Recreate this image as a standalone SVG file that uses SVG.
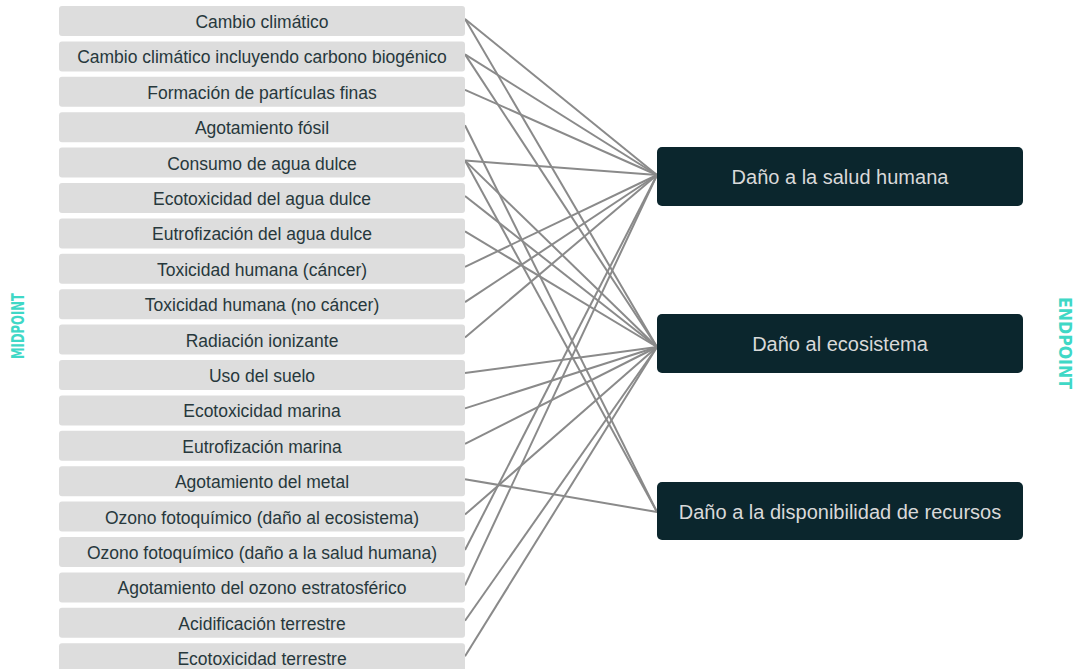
<svg xmlns="http://www.w3.org/2000/svg" width="1078" height="669" viewBox="0 0 1078 669">
<style>
.mb{fill:#dddddd}
.mt{font-family:"Liberation Sans",Arial,sans-serif;font-size:17.5px;fill:#27383c;text-anchor:middle}
.eb{fill:#0b262d}
.et{font-family:"Liberation Sans",Arial,sans-serif;font-size:20px;fill:#d9d9d9;text-anchor:middle}
.side{font-family:"DejaVu Sans Condensed","DejaVu Sans",sans-serif;font-weight:bold;font-size:18px;fill:#3fd8c6;text-anchor:middle}
.c line{stroke:#8a8a8a;stroke-width:2}
</style>
<rect width="1078" height="669" fill="#ffffff"/>
<g id="connectors" class="c">
<line x1="465" y1="19" x2="657" y2="175"/>
<line x1="465" y1="19" x2="657" y2="347"/>
<line x1="465" y1="54.4" x2="657" y2="175"/>
<line x1="465" y1="54.4" x2="657" y2="347"/>
<line x1="465" y1="89.8" x2="657" y2="175"/>
<line x1="465" y1="125.2" x2="657" y2="512"/>
<line x1="465" y1="160.6" x2="657" y2="175"/>
<line x1="465" y1="160.6" x2="657" y2="347"/>
<line x1="465" y1="160.6" x2="657" y2="512"/>
<line x1="465" y1="196" x2="657" y2="347"/>
<line x1="465" y1="231.4" x2="657" y2="347"/>
<line x1="465" y1="266.8" x2="657" y2="175"/>
<line x1="465" y1="302.2" x2="657" y2="175"/>
<line x1="465" y1="337.6" x2="657" y2="175"/>
<line x1="465" y1="373" x2="657" y2="347"/>
<line x1="465" y1="408.4" x2="657" y2="347"/>
<line x1="465" y1="443.8" x2="657" y2="347"/>
<line x1="465" y1="479.2" x2="657" y2="512"/>
<line x1="465" y1="514.6" x2="657" y2="347"/>
<line x1="465" y1="550" x2="657" y2="175"/>
<line x1="465" y1="585.4" x2="657" y2="175"/>
<line x1="465" y1="620.8" x2="657" y2="347"/>
<line x1="465" y1="656.2" x2="657" y2="347"/>
</g>
<g id="m0" transform="translate(59,6)"><rect class="mb" width="406" height="30" rx="3"/><text class="mt" x="203" y="22">Cambio climático</text></g>
<g id="m1" transform="translate(59,41.4)"><rect class="mb" width="406" height="30" rx="3"/><text class="mt" x="203" y="22">Cambio climático incluyendo carbono biogénico</text></g>
<g id="m2" transform="translate(59,76.8)"><rect class="mb" width="406" height="30" rx="3"/><text class="mt" x="203" y="22">Formación de partículas finas</text></g>
<g id="m3" transform="translate(59,112.2)"><rect class="mb" width="406" height="30" rx="3"/><text class="mt" x="203" y="22">Agotamiento fósil</text></g>
<g id="m4" transform="translate(59,147.6)"><rect class="mb" width="406" height="30" rx="3"/><text class="mt" x="203" y="22">Consumo de agua dulce</text></g>
<g id="m5" transform="translate(59,183)"><rect class="mb" width="406" height="30" rx="3"/><text class="mt" x="203" y="22">Ecotoxicidad del agua dulce</text></g>
<g id="m6" transform="translate(59,218.4)"><rect class="mb" width="406" height="30" rx="3"/><text class="mt" x="203" y="22">Eutrofización del agua dulce</text></g>
<g id="m7" transform="translate(59,253.8)"><rect class="mb" width="406" height="30" rx="3"/><text class="mt" x="203" y="22">Toxicidad humana (cáncer)</text></g>
<g id="m8" transform="translate(59,289.2)"><rect class="mb" width="406" height="30" rx="3"/><text class="mt" x="203" y="22">Toxicidad humana (no cáncer)</text></g>
<g id="m9" transform="translate(59,324.6)"><rect class="mb" width="406" height="30" rx="3"/><text class="mt" x="203" y="22">Radiación ionizante</text></g>
<g id="m10" transform="translate(59,360)"><rect class="mb" width="406" height="30" rx="3"/><text class="mt" x="203" y="22">Uso del suelo</text></g>
<g id="m11" transform="translate(59,395.4)"><rect class="mb" width="406" height="30" rx="3"/><text class="mt" x="203" y="22">Ecotoxicidad marina</text></g>
<g id="m12" transform="translate(59,430.8)"><rect class="mb" width="406" height="30" rx="3"/><text class="mt" x="203" y="22">Eutrofización marina</text></g>
<g id="m13" transform="translate(59,466.2)"><rect class="mb" width="406" height="30" rx="3"/><text class="mt" x="203" y="22">Agotamiento del metal</text></g>
<g id="m14" transform="translate(59,501.6)"><rect class="mb" width="406" height="30" rx="3"/><text class="mt" x="203" y="22">Ozono fotoquímico (daño al ecosistema)</text></g>
<g id="m15" transform="translate(59,537)"><rect class="mb" width="406" height="30" rx="3"/><text class="mt" x="203" y="22">Ozono fotoquímico (daño a la salud humana)</text></g>
<g id="m16" transform="translate(59,572.4)"><rect class="mb" width="406" height="30" rx="3"/><text class="mt" x="203" y="22">Agotamiento del ozono estratosférico</text></g>
<g id="m17" transform="translate(59,607.8)"><rect class="mb" width="406" height="30" rx="3"/><text class="mt" x="203" y="22">Acidificación terrestre</text></g>
<g id="m18" transform="translate(59,643.2)"><rect class="mb" width="406" height="30" rx="3"/><text class="mt" x="203" y="22">Ecotoxicidad terrestre</text></g>
<g id="e0" transform="translate(657,147)"><rect class="eb" width="366" height="59" rx="5"/><text class="et" x="183" y="37">Daño a la salud humana</text></g>
<g id="e1" transform="translate(657,314)"><rect class="eb" width="366" height="59" rx="5"/><text class="et" x="183" y="37">Daño al ecosistema</text></g>
<g id="e2" transform="translate(657,482)"><rect class="eb" width="366" height="58" rx="5"/><text class="et" x="183" y="37">Daño a la disponibilidad de recursos</text></g>
<g id="midpoint-label"><text class="side" transform="translate(24,326) rotate(-90)" textLength="66" lengthAdjust="spacingAndGlyphs">MIDPOINT</text></g>
<g id="endpoint-label"><text class="side" transform="translate(1059,343) rotate(90)" textLength="92" lengthAdjust="spacingAndGlyphs">ENDPOINT</text></g>
</svg>
